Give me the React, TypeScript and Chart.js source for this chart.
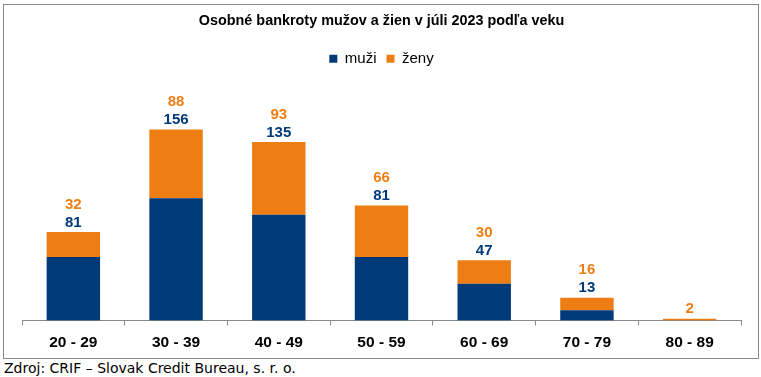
import React, { useEffect, useRef } from "react";
import { Chart, registerables } from "chart.js";

Chart.register(...registerables);

const TITLE = "Osobné bankroty mužov a žien v júli 2023 podľa veku";
const SOURCE = "Zdroj: CRIF – Slovak Credit Bureau, s. r. o.";
const categories = ["20 - 29", "30 - 39", "40 - 49", "50 - 59", "60 - 69", "70 - 79", "80 - 89"];
const muzi = [81, 156, 135, 81, 47, 13, 0];
const zeny = [32, 88, 93, 66, 30, 16, 2];
const BLUE = "#003A78";
const ORANGE = "#EE7E14";
const FONT = "'Liberation Sans', Arial, sans-serif";

const labelPlugin = {
  id: "stackLabels",
  afterDatasetsDraw(chart: any) {
    const ctx = chart.ctx;
    const metaTop = chart.getDatasetMeta(1);
    ctx.save();
    ctx.font = "bold 15px " + FONT;
    ctx.textAlign = "center";
    ctx.textBaseline = "bottom";
    categories.forEach((_, i) => {
      const bar = metaTop.data[i];
      const x = bar.x;
      let y = bar.y - 2;
      const items: [number, string][] = [
        [muzi[i], BLUE],
        [zeny[i], ORANGE],
      ];
      items.forEach(([v, c]) => {
        if (!v) return;
        ctx.fillStyle = c;
        ctx.fillText(String(v), x, y);
        y -= 18;
      });
    });
    ctx.restore();
  },
};

export default function App() {
  const ref = useRef<HTMLCanvasElement>(null);
  useEffect(() => {
    const chart = new Chart(ref.current!, {
      type: "bar",
      data: {
        labels: categories,
        datasets: [
          { label: "muži", data: muzi, backgroundColor: BLUE, barPercentage: 0.52, categoryPercentage: 1 },
          { label: "ženy", data: zeny, backgroundColor: ORANGE, barPercentage: 0.52, categoryPercentage: 1 },
        ],
      },
      options: {
        animation: false,
        responsive: false,
        devicePixelRatio: 1,
        layout: { padding: { left: 18, right: 17, top: 0, bottom: -2 } },
        plugins: {
          title: {
            display: true,
            text: TITLE,
            color: "#000",
            font: { family: FONT, size: 14.4, weight: "bold" },
            padding: { top: 7, bottom: 12 },
          },
          legend: {
            display: true,
            labels: {
              boxWidth: 8,
              boxHeight: 8,
              color: "#000",
              font: { family: FONT, size: 15 },
              padding: 10,
            },
          },
          tooltip: { enabled: false },
        },
        scales: {
          x: {
            stacked: true,
            grid: { offset: true, drawOnChartArea: false, drawTicks: true, tickLength: 5, color: "#898989" },
            border: { display: true, color: "#898989" },
            ticks: {
              color: "#000",
              padding: 8,
              font: { family: FONT, size: 15.5, weight: "bold" },
            },
          },
          y: {
            stacked: true,
            display: false,
            min: 0,
            max: 312,
          },
        },
      },
      plugins: [labelPlugin],
    });
    return () => chart.destroy();
  }, []);
  return (
    <div>
      <div
        style={{
          position: "absolute",
          left: 3,
          top: 4,
          width: 756,
          height: 355,
          border: "1px solid #898989",
          boxSizing: "border-box",
          background: "#fff",
        }}
      >
        <canvas ref={ref} width={754} height={353} style={{ display: "block", width: 754, height: 353 }} />
      </div>
      <div
        style={{
          position: "absolute",
          left: 4,
          top: 360,
          fontFamily: "'DejaVu Sans', Verdana, sans-serif",
          fontSize: 14,
          lineHeight: "17px",
          color: "#000",
          whiteSpace: "nowrap",
        }}
      >
        {SOURCE}
      </div>
    </div>
  );
}
